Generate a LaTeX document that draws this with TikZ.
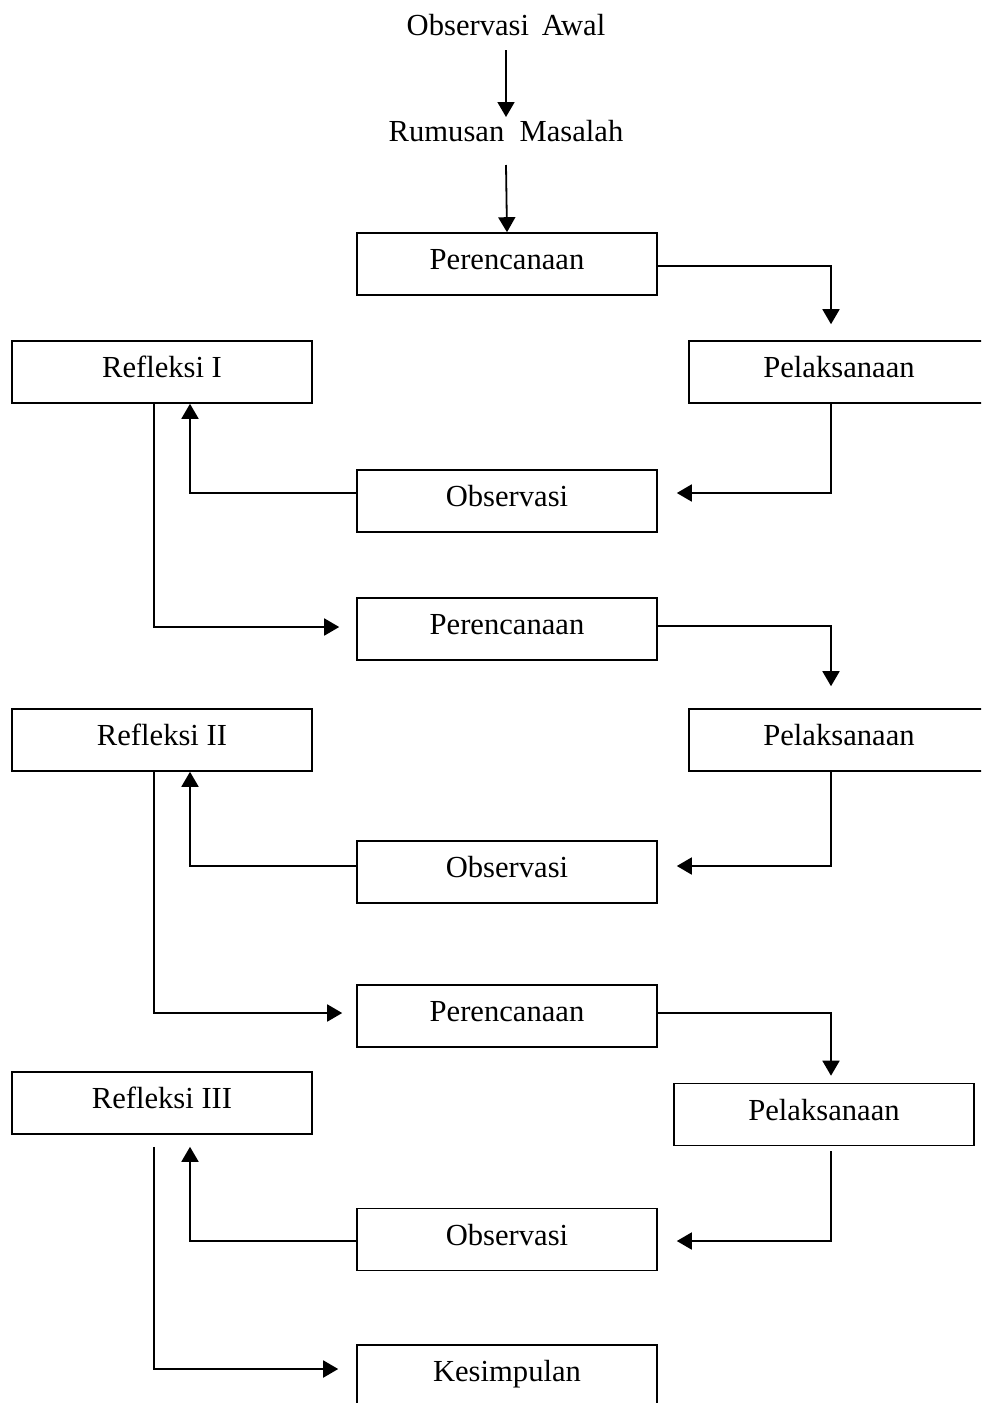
\documentclass[tikz,border=0pt]{standalone}
\usepackage{fontspec}
\setmainfont{Liberation Serif}
\usetikzlibrary{arrows.meta}
\tikzset{
  box/.style={draw, line width=0.8pt, minimum width=150pt, minimum height=31pt, inner sep=0pt, text height=10pt, text depth=4.2pt, font=\fontsize{15.3}{18}\selectfont},
  lbl/.style={inner sep=0pt, font=\fontsize{15.3}{18}\selectfont},
  arr/.style={line width=0.9pt, -{Triangle[length=7.5pt,width=8.5pt]}},
  ln/.style={line width=0.9pt}
}
\begin{document}
\begin{tikzpicture}[x=0.5pt,y=-0.5pt]
\useasboundingbox (0,0) rectangle (981,1403);
\clip (0,0) rectangle (981,1403);
% nodes
\node[lbl] (oa) at (506,25) {Observasi\ \,Awal};
\node[lbl] (rm) at (506,131) {Rumusan\ \ Masalah};
\node[box] (p1) at (507,264) {Perencanaan};
\node[box] (l1) at (839,372) {Pelaksanaan};
\node[box] (r1) at (162,372) {Refleksi I};
\node[box] (o1) at (507,501) {Observasi};
\node[box] (p2) at (507,629) {Perencanaan};
\node[box] (l2) at (839,740) {Pelaksanaan};
\node[box] (r2) at (162,740) {Refleksi II};
\node[box] (o2) at (507,872) {Observasi};
\node[box] (p3) at (507,1016) {Perencanaan};
\node[box] (l3) at (824,1114.5) {Pelaksanaan};
\node[box] (r3) at (162,1103) {Refleksi III};
\node[box] (o3) at (507,1239.5) {Observasi};
\node[box] (k) at (507,1376) {Kesimpulan};
% connectors
\draw[arr] ([yshift=-12.5pt]oa.center) -- ([yshift=7pt]rm.center);
\draw[arr] ([yshift=-17pt]rm.center) -- (p1.north);
% cycle 1
\draw[arr, shorten >=8pt] ([yshift=-1pt]p1.east) -| ([xshift=-4pt]l1.north);
\draw[arr, shorten >=9.5pt] ([xshift=-4pt]l1.south) |- ([yshift=4pt]o1.east);
\draw[arr] ([yshift=4pt]o1.west) -| ([xshift=14pt]r1.south);
\draw[arr, shorten >=8.5pt] ([xshift=-4pt]r1.south) |- ([yshift=1pt]p2.west);
% cycle 2
\draw[arr, shorten >=11pt] ([yshift=1.5pt]p2.east) -| ([xshift=-4pt]l2.north);
\draw[arr, shorten >=9.5pt] ([xshift=-4pt]l2.south) |- ([yshift=3pt]o2.east);
\draw[arr] ([yshift=3pt]o2.west) -| ([xshift=14pt]r2.south);
\draw[arr, shorten >=7pt] ([xshift=-4pt]r2.south) |- ([yshift=1.5pt]p3.west);
% cycle 3
\draw[arr, shorten >=3.5pt] ([yshift=1.5pt]p3.east) -| ([xshift=3.5pt]l3.north);
\draw[arr, shorten <=2.5pt, shorten >=9.5pt] ([xshift=3.5pt]l3.south) |- ([yshift=-0.75pt]o3.east);
\draw[arr, shorten >=6pt] ([yshift=-0.75pt]o3.west) -| ([xshift=14pt]r3.south);
\draw[arr, shorten <=6pt, shorten >=9pt] ([xshift=-4pt]r3.south) |- ([yshift=3.5pt]k.west);
\end{tikzpicture}
\end{document}
